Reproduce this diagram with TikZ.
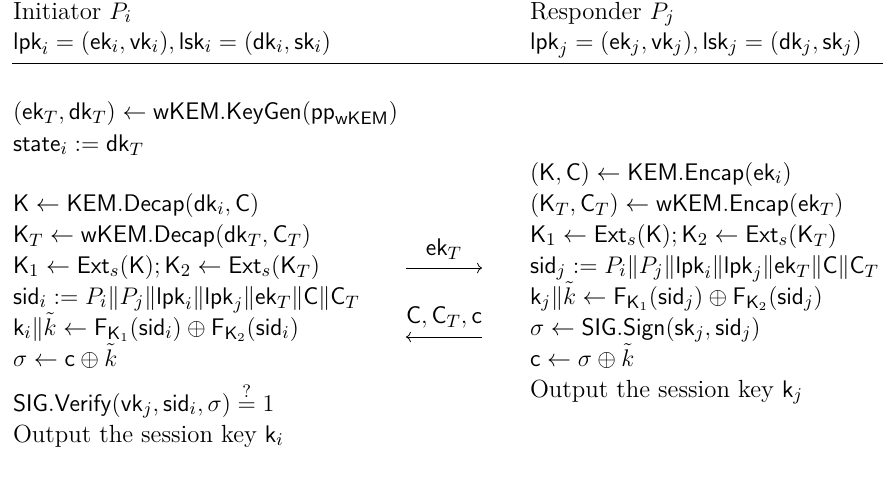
\documentclass[tikz,border=0pt]{standalone}
\usepackage{amsmath, amssymb}
\usetikzlibrary{arrows.meta, positioning}
\tikzset{
  txt/.style={anchor=base west, inner sep=0pt, outer sep=0pt},
  msg/.style={->, shorten >=0pt, shorten <=0pt},
  lbl/.style={above=4pt, inner sep=0pt}
}
\newcommand{\sfn}[1]{\mathsf{#1}}

\begin{document}
\begin{tikzpicture}[x=0.5pt, y=-0.5pt, >=To, font=\fontsize{12.4}{15}\selectfont]
  \useasboundingbox (0,0) rectangle (883,483);
  % initiator side
  \node[txt] (ini) at (13,19) {Initiator $P_i$};
  \node[txt] (lki) at (13,49) {$\sfn{lpk}_i = (\sfn{ek}_i, \sfn{vk}_i), \sfn{lsk}_i = (\sfn{dk}_i, \sfn{sk}_i)$};
  \node[txt] (kgen) at (13,119) {$(\sfn{ek}_T, \sfn{dk}_T) \leftarrow \sfn{wKEM.KeyGen}(\sfn{pp}_{\sfn{wKEM}})$};
  \node[txt] (state) at (13,151) {$\sfn{state}_i := \sfn{dk}_T$};
  \node[txt] (dec) at (13,211) {$\sfn{K} \leftarrow \sfn{KEM.Decap}(\sfn{dk}_i, \sfn{C})$};
  \node[txt] (wdec) at (13,242) {$\sfn{K}_T \leftarrow \sfn{wKEM.Decap}(\sfn{dk}_T, \sfn{C}_T)$};
  \node[txt] (exti) at (13,273) {$\sfn{K}_1 \leftarrow \sfn{Ext}_s(\sfn{K}); \sfn{K}_2 \leftarrow \sfn{Ext}_s(\sfn{K}_T)$};
  \node[txt] (sidi) at (13,304) {$\sfn{sid}_i := P_i \| P_j \| \sfn{lpk}_i \| \sfn{lpk}_j \| \sfn{ek}_T \| \sfn{C} \| \sfn{C}_T$};
  \node[txt] (prfi) at (13,335) {$\sfn{k}_i \| \tilde{k} \leftarrow \sfn{F}_{\sfn{K}_1}(\sfn{sid}_i) \oplus \sfn{F}_{\sfn{K}_2}(\sfn{sid}_i)$};
  \node[txt] (unmask) at (13,366) {$\sigma \leftarrow \sfn{c} \oplus \tilde{k}$};
  \node[txt] (vrfy) at (13,411) {$\sfn{SIG.Verify}(\sfn{vk}_j, \sfn{sid}_i, \sigma) \stackrel{?}{=} 1$};
  \node[txt] (outi) at (13,442) {Output the session key $\sfn{k}_i$};
  % responder side
  \node[txt] (res) at (530,19) {Responder $P_j$};
  \node[txt] (lkj) at (530,49) {$\sfn{lpk}_j = (\sfn{ek}_j, \sfn{vk}_j), \sfn{lsk}_j = (\sfn{dk}_j, \sfn{sk}_j)$};
  \node[txt] (enc) at (530,180) {$(\sfn{K}, \sfn{C}) \leftarrow \sfn{KEM.Encap}(\sfn{ek}_i)$};
  \node[txt] (wenc) at (530,211) {$(\sfn{K}_T, \sfn{C}_T) \leftarrow \sfn{wKEM.Encap}(\sfn{ek}_T)$};
  \node[txt] (extj) at (530,242) {$\sfn{K}_1 \leftarrow \sfn{Ext}_s(\sfn{K}); \sfn{K}_2 \leftarrow \sfn{Ext}_s(\sfn{K}_T)$};
  \node[txt] (sidj) at (530,273) {$\sfn{sid}_j := P_i \| P_j \| \sfn{lpk}_i \| \sfn{lpk}_j \| \sfn{ek}_T \| \sfn{C} \| \sfn{C}_T$};
  \node[txt] (prfj) at (530,304) {$\sfn{k}_j \| \tilde{k} \leftarrow \sfn{F}_{\sfn{K}_1}(\sfn{sid}_j) \oplus \sfn{F}_{\sfn{K}_2}(\sfn{sid}_j)$};
  \node[txt] (sign) at (530,335) {$\sigma \leftarrow \sfn{SIG.Sign}(\sfn{sk}_j, \sfn{sid}_j)$};
  \node[txt] (mask) at (530,366) {$\sfn{c} \leftarrow \sigma \oplus \tilde{k}$};
  \node[txt] (outj) at (530,397) {Output the session key $\sfn{k}_j$};
  % header rule
  \coordinate (hl) at (12,63);
  \coordinate (hr) at (883,63);
  \draw (hl) -- (hr);
  % messages
  \coordinate (m1a) at (406,268);
  \coordinate (m1b) at (482,268);
  \coordinate (m2a) at (482,337);
  \coordinate (m2b) at (406,337);
  \draw[msg] (m1a) -- (m1b) node[lbl, midway] (ekT) {$\sfn{ek}_T$};
  \draw[msg] (m2a) -- (m2b) node[lbl, midway] (ctc) {$\sfn{C}, \sfn{C}_T, \sfn{c}$};
\end{tikzpicture}
\end{document}
